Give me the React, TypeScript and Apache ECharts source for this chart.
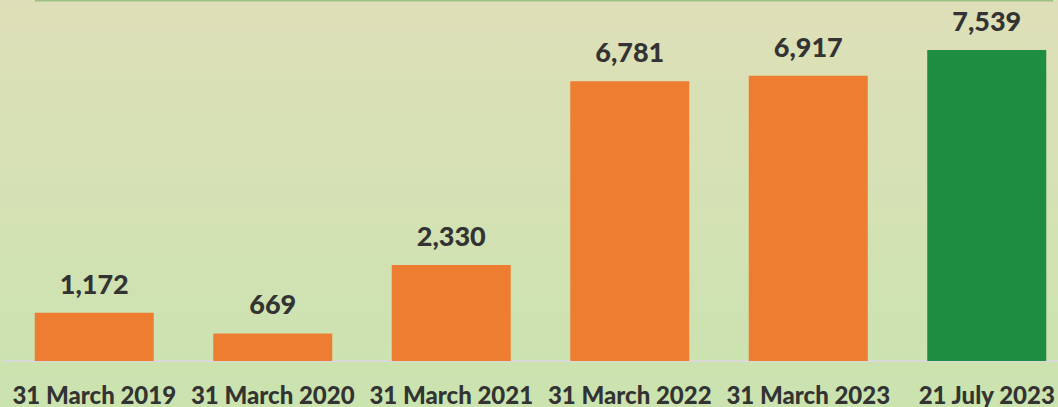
import React, { useEffect, useRef } from "react";
import * as echarts from "echarts";

const categories = ["31 March 2019", "31 March 2020", "31 March 2021", "31 March 2022", "31 March 2023", "21 July 2023"];
const values = [1172, 669, 2330, 6781, 6917, 7539];
const barColors = ["#ED7D31", "#ED7D31", "#ED7D31", "#ED7D31", "#ED7D31", "#1E8C41"];

export default function App() {
  const ref = useRef<HTMLDivElement>(null);
  useEffect(() => {
    const chart = echarts.init(ref.current!, undefined, { renderer: "svg" });
    chart.setOption({
      animation: false,
      backgroundColor: {
        type: "linear", x: 0, y: 0, x2: 0, y2: 1,
        colorStops: [
          { offset: 0, color: "#DEDFB8" },
          { offset: 1, color: "#CAE3AF" },
        ],
      },
      graphic: [
        { type: "line", shape: { x1: 35, y1: 0.5, x2: 1053, y2: 0.5 }, style: { stroke: "#9DC183", lineWidth: 2 } },
      ],
      grid: { left: 5, right: -18, top: 31, bottom: 46, containLabel: false, outerBoundsMode: "none" },
      xAxis: {
        type: "category",
        data: categories,
        axisLine: { lineStyle: { color: "#D9D9D9", width: 2 } },
        axisTick: { show: false },
        axisLabel: {
          color: "#333333",
          fontFamily: "Lato",
          fontWeight: 900,
          fontSize: 24,
          margin: 21,
          interval: 0,
        },
      },
      yAxis: {
        type: "value",
        min: 0,
        max: 8000,
        show: false,
        splitLine: { show: false },
      },
      series: [
        {
          type: "bar",
          barWidth: 119,
          data: values.map((v, i) => ({ value: v, itemStyle: { color: barColors[i] } })),
          label: {
            show: true,
            position: "top",
            distance: 16,
            color: "#333333",
            fontFamily: "Lato",
            fontWeight: 900,
            fontSize: 27,
            formatter: (p: any) => p.value.toLocaleString("en-US"),
          },
        },
      ],
    });
    return () => chart.dispose();
  }, []);
  return <div ref={ref} style={{ position: "fixed", left: 0, top: 0, width: 1058, height: 407 }} />;
}
